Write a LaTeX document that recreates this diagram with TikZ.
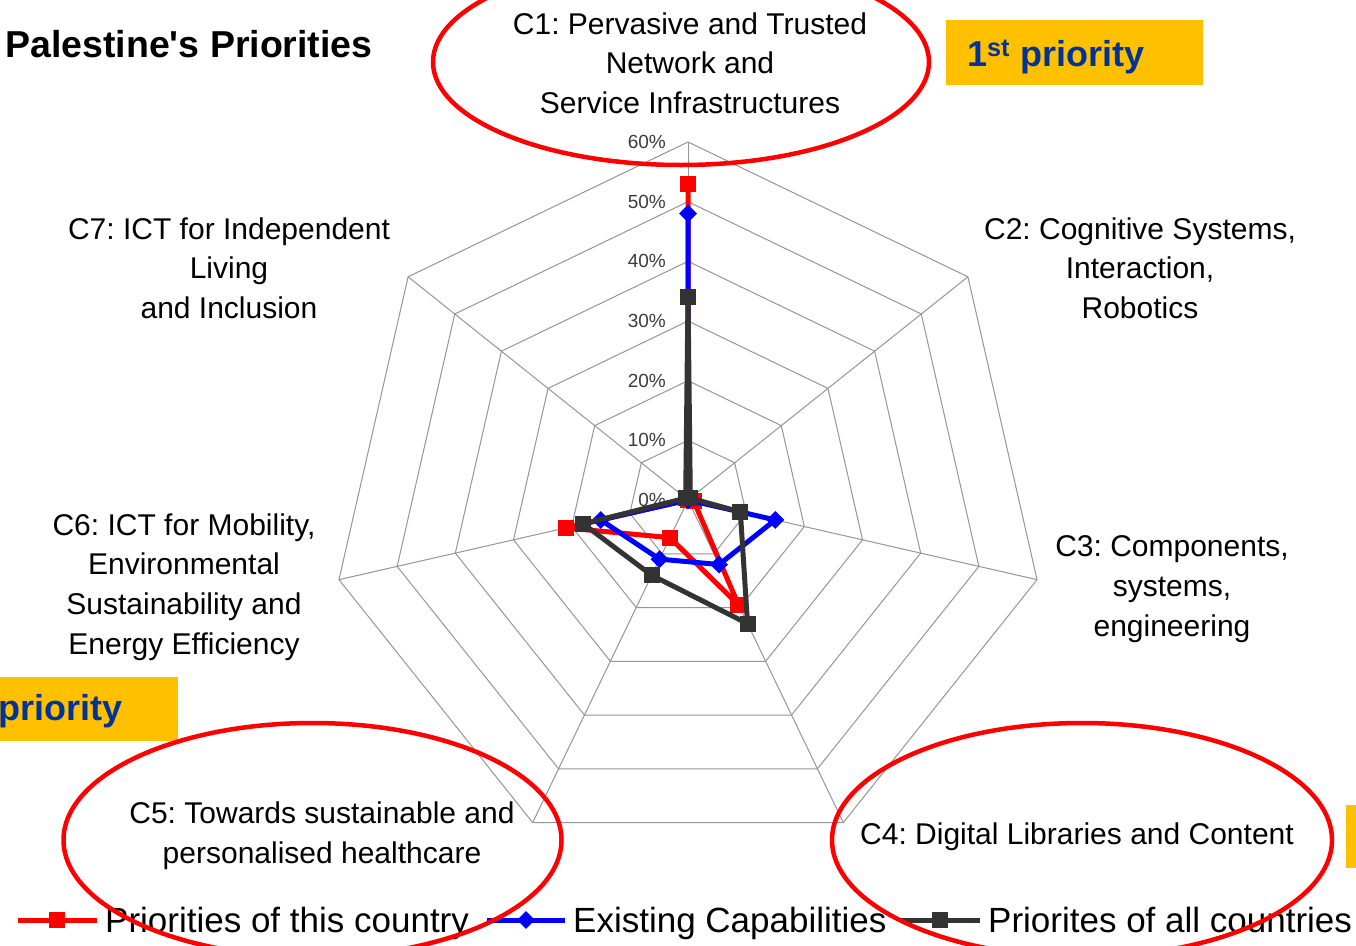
\documentclass[tikz,border=0pt]{standalone}
\usepackage{fontspec}
\setmainfont{Liberation Sans}
\usetikzlibrary{shapes.geometric}
\definecolor{prioyellow}{RGB}{255,192,0}
\definecolor{prioblue}{RGB}{0,51,153}
\definecolor{gridgray}{RGB}{150,150,150}
\definecolor{darkser}{RGB}{51,51,51}
\definecolor{tickgray}{RGB}{60,60,60}
\frenchspacing
\begin{document}
\begin{tikzpicture}[x=1pt,y=-1pt,
  grid/.style={draw=gridgray,line width=1pt},
  axislabel/.style={align=center,font=\fontsize{30}{39.7}\selectfont,inner sep=0pt},
  ticklabel/.style={anchor=east,font=\fontsize{19}{22}\selectfont,text=tickgray,inner sep=0pt},
  legendtext/.style={anchor=base west,font=\fontsize{35}{40}\selectfont,inner sep=0pt},
  redline/.style={draw=red,line width=5pt,line join=round},
  blueline/.style={draw=blue,line width=5pt,line join=round},
  blackline/.style={draw=darkser,line width=5pt,line join=round},
  redsq/.style={rectangle,fill=red,minimum size=16pt,inner sep=0pt},
  blacksq/.style={rectangle,fill=darkser,minimum size=16pt,inner sep=0pt},
  bluedia/.style={diamond,fill=blue,minimum width=18pt,minimum height=18pt,inner sep=0pt},
  ell/.style={draw=red,line width=4.5pt},
  prio/.style={text=prioblue,font=\fontsize{36}{40}\selectfont\bfseries,inner sep=0pt}
]
\useasboundingbox (0,0) rectangle (1356,945);
\fill[white] (0,0) rectangle (1356,945);

% yellow boxes
\fill[prioyellow] (946,20) rectangle (1203,85);
\fill[prioyellow] (0,677) rectangle (178,741);
\fill[prioyellow] (1346,805) rectangle (1356,868);
\node[prio,anchor=base west] (p1) at (967,66) {1\textsuperscript{st} priority};
\node[prio,anchor=base west] (p2) at (-2,720) {priority};

% title
\node[anchor=west,font=\fontsize{37.5}{40}\selectfont\bfseries,inner sep=0pt] (title) at (5,44) {Palestine\textquotesingle s Priorities};

% grid
\coordinate (O) at (688,500);
\foreach \k in {1,...,6} {
  \draw[grid] (688,{500-\k*59.67}) \foreach \i in {1,...,6} { -- ({688+\k*59.67*sin(\i*360/7)},{500-\k*59.67*cos(\i*360/7)}) } -- cycle;
}
\foreach \i in {0,...,6} {
  \coordinate (v\i) at ({688+358*sin(\i*360/7)},{500-358*cos(\i*360/7)});
  \draw[grid] (O) -- (v\i);
}
\foreach \k/\t in {0/0\%,1/10\%,2/20\%,3/30\%,4/40\%,5/50\%,6/60\%} {
  \node[ticklabel] (t\k) at (666,{500-\k*59.67}) {\t};
}

% data series
\foreach \i/\v in {0/53,1/0,2/1,3/19.5,4/7,5/21,6/0}
  \coordinate (r\i) at ({688+\v*5.967*sin(\i*360/7)},{500-\v*5.967*cos(\i*360/7)});
\foreach \i/\v in {0/48,1/0,2/15,3/12,4/11,5/15,6/0}
  \coordinate (b\i) at ({688+\v*5.967*sin(\i*360/7)},{500-\v*5.967*cos(\i*360/7)});
\foreach \i/\v in {0/34,1/0.5,2/9,3/23,4/14,5/18,6/0.5}
  \coordinate (k\i) at ({688+\v*5.967*sin(\i*360/7)},{500-\v*5.967*cos(\i*360/7)});

\draw[redline] (r0) -- (r1) -- (r2) -- (r3) -- (r4) -- (r5) -- (r6) -- cycle;
\foreach \i in {0,...,6} \node[redsq] (rm\i) at (r\i) {};
\draw[blueline] (b0) -- (b1) -- (b2) -- (b3) -- (b4) -- (b5) -- (b6) -- cycle;
\foreach \i in {0,...,6} \node[bluedia] (bm\i) at (b\i) {};
\draw[blackline] (k0) -- (k1) -- (k2) -- (k3) -- (k4) -- (k5) -- (k6) -- cycle;
\foreach \i in {0,...,6} \node[blacksq] (km\i) at (k\i) {};

% axis labels
\node[axislabel] (c1) at (690,63) {C1: Pervasive and Trusted\\Network and\\Service Infrastructures};
\node[axislabel] (c2) at (1140,268) {C2: Cognitive Systems,\\Interaction,\\Robotics};
\node[axislabel] (c3) at (1172,589) {C3: Components,\\systems,\\engineering};
\node[axislabel] (c4) at (1077,837) {C4: Digital Libraries and Content};
\node[axislabel] (c5) at (322,836) {C5: Towards sustainable and\\personalised healthcare};
\node[axislabel] (c6) at (184,587) {C6: ICT for Mobility,\\Environmental\\Sustainability and\\Energy Efficiency};
\node[axislabel] (c7) at (229,268) {C7: ICT for Independent\\Living\\and Inclusion};

% legend
\coordinate (la1) at (18,920); \coordinate (la2) at (97,920);
\draw[redline] (la1) -- (la2);
\node[redsq] (lm1) at (57,920) {};
\node[legendtext] (lt1) at (105,932) {Priorities of this country};
\coordinate (lb1) at (487,920); \coordinate (lb2) at (565,920);
\draw[blueline] (lb1) -- (lb2);
\node[bluedia] (lm2) at (526,920) {};
\node[legendtext] (lt2) at (573,932) {Existing Capabilities};
\coordinate (lc1) at (900,920); \coordinate (lc2) at (980,920);
\draw[blackline] (lc1) -- (lc2);
\node[blacksq] (lm3) at (940,920) {};
\node[legendtext] (lt3) at (988,932) {Priorites of all countries};

% ellipses
\draw[ell] (681,62) ellipse [x radius=248, y radius=103];
\draw[ell] (312.5,840) ellipse [x radius=249, y radius=117];
\draw[ell] (1082,840) ellipse [x radius=250, y radius=117];
\end{tikzpicture}
\end{document}
